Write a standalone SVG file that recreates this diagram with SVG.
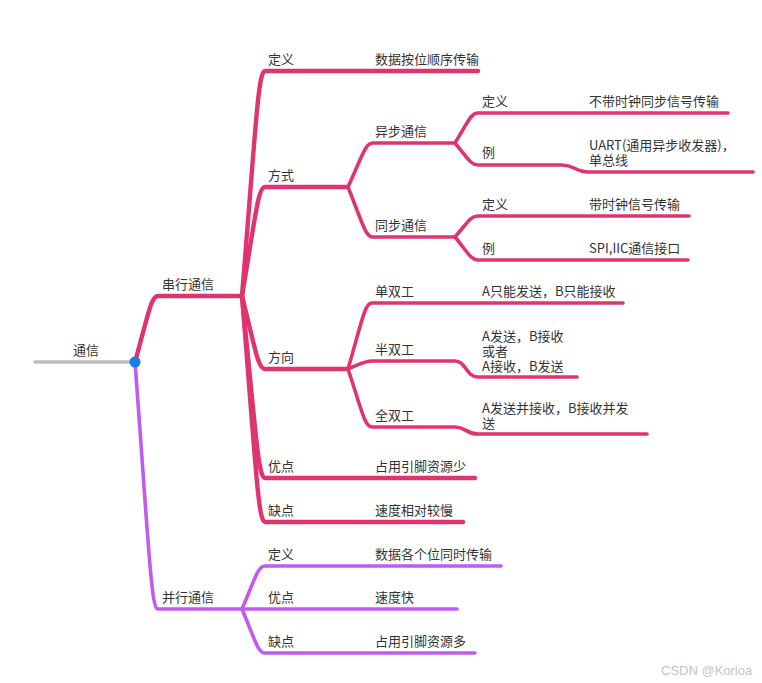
<svg xmlns="http://www.w3.org/2000/svg" width="762" height="683" viewBox="0 0 762 683">
<style>
text{font-family:"Noto Sans CJK SC","Noto Sans",sans-serif;font-size:13px;fill:#333}
.l{fill:none;stroke-linecap:round;stroke-linejoin:round}
.p{stroke:#DF3470;stroke-width:3.6}
.pt{stroke:#DF3470;stroke-width:4.4}
.v{stroke:#C15BF0;stroke-width:3.6}
.g{stroke:#BDBDBD;stroke-width:3.6}
.wm{font-family:"Liberation Sans",sans-serif;font-size:13px;fill:#c4c4c4}
</style>
<rect width="762" height="683" fill="#fff"/>
<g id="connectors">
<path class="l g" d="M35,362 H135"/>
<path class="l pt" d="M135,362 C148.8,312.5 151.1,296 158,296 H242"/>
<path class="l v" d="M135,362 C148.8,547 151.1,609 158,609 H242"/>
<path class="l pt" d="M242,296 C255.8,127 258.1,71 265,71 H478"/>
<path class="l pt" d="M242,296 C255.8,214 258.1,187 265,187 H348"/>
<path class="l pt" d="M242,296 C255.8,351 258.1,369 265,369 H348"/>
<path class="l pt" d="M242,296 C255.8,432.5 258.1,478 265,478 H475"/>
<path class="l pt" d="M242,296 C255.8,465.5 258.1,522 265,522 H463"/>
<path class="l p" d="M348,187 C363,154 365.5,143 373,143 H455"/>
<path class="l p" d="M348,187 C363,224.5 365.5,237 373,237 H455"/>
<path class="l p" d="M455,143 C468.8,120.5 471.1,113 478,113 H728"/>
<path class="l p" d="M455,143 C468.8,159.5 471.1,165 478,165 H562 C575,165 575,172 588,172 H753"/>
<path class="l p" d="M455,237 C468.8,221 471.1,216 478,216 H689"/>
<path class="l p" d="M455,237 C468.8,254 471.1,260 478,260 H688"/>
<path class="l p" d="M348,369 C362.4,319.5 364.8,303 372,303 H623"/>
<path class="l p" d="M348,369 C362.4,363 364.8,361 372,361 H455 C466,361 466,377 478,377 H577"/>
<path class="l p" d="M348,369 C362.4,412.5 364.8,427 372,427 H455 C466,427 466,434 478,434 H647"/>
<path class="l v" d="M242,609 C255.8,576.8 258.1,566 265,566 H501"/>
<path class="l v" d="M242,609 H457"/>
<path class="l v" d="M242,609 C255.8,642 258.1,653 265,653 H475"/>
</g>
<g id="root"><text x="73" y="355">通信</text><circle cx="135" cy="362" r="5.5" fill="#1C7DE3"/></g>
<g id="serial"><text x="162" y="289">串行通信</text></g>
<g id="parallel"><text x="162" y="602">并行通信</text></g>
<g id="s-def"><text x="268" y="64">定义</text><text x="375" y="64">数据按位顺序传输</text></g>
<g id="s-mode"><text x="268" y="180">方式</text></g>
<g id="async"><text x="375" y="136">异步通信</text></g>
<g id="async-def"><text x="482" y="106">定义</text><text x="589" y="106">不带时钟同步信号传输</text></g>
<g id="async-ex"><text x="482" y="157">例</text><text x="589" y="150">UART(通用异步收发器)，</text><text x="589" y="165">单总线</text></g>
<g id="sync"><text x="375" y="230">同步通信</text></g>
<g id="sync-def"><text x="482" y="209">定义</text><text x="589" y="209">带时钟信号传输</text></g>
<g id="sync-ex"><text x="482" y="253">例</text><text x="589" y="253">SPI,IIC通信接口</text></g>
<g id="s-dir"><text x="268" y="362">方向</text></g>
<g id="simplex"><text x="375" y="296">单双工</text><text x="482" y="296">A只能发送，B只能接收</text></g>
<g id="half"><text x="375" y="354">半双工</text><text x="482" y="341">A发送，B接收</text><text x="482" y="356">或者</text><text x="482" y="371">A接收，B发送</text></g>
<g id="full"><text x="375" y="420">全双工</text><text x="482" y="413">A发送并接收，B接收并发</text><text x="482" y="428">送</text></g>
<g id="s-pro"><text x="268" y="471">优点</text><text x="375" y="471">占用引脚资源少</text></g>
<g id="s-con"><text x="268" y="515">缺点</text><text x="375" y="515">速度相对较慢</text></g>
<g id="p-def"><text x="268" y="559">定义</text><text x="375" y="559">数据各个位同时传输</text></g>
<g id="p-pro"><text x="268" y="602">优点</text><text x="375" y="602">速度快</text></g>
<g id="p-con"><text x="268" y="646">缺点</text><text x="375" y="646">占用引脚资源多</text></g>
<text class="wm" x="661" y="675">CSDN @Korloa</text>
</svg>
